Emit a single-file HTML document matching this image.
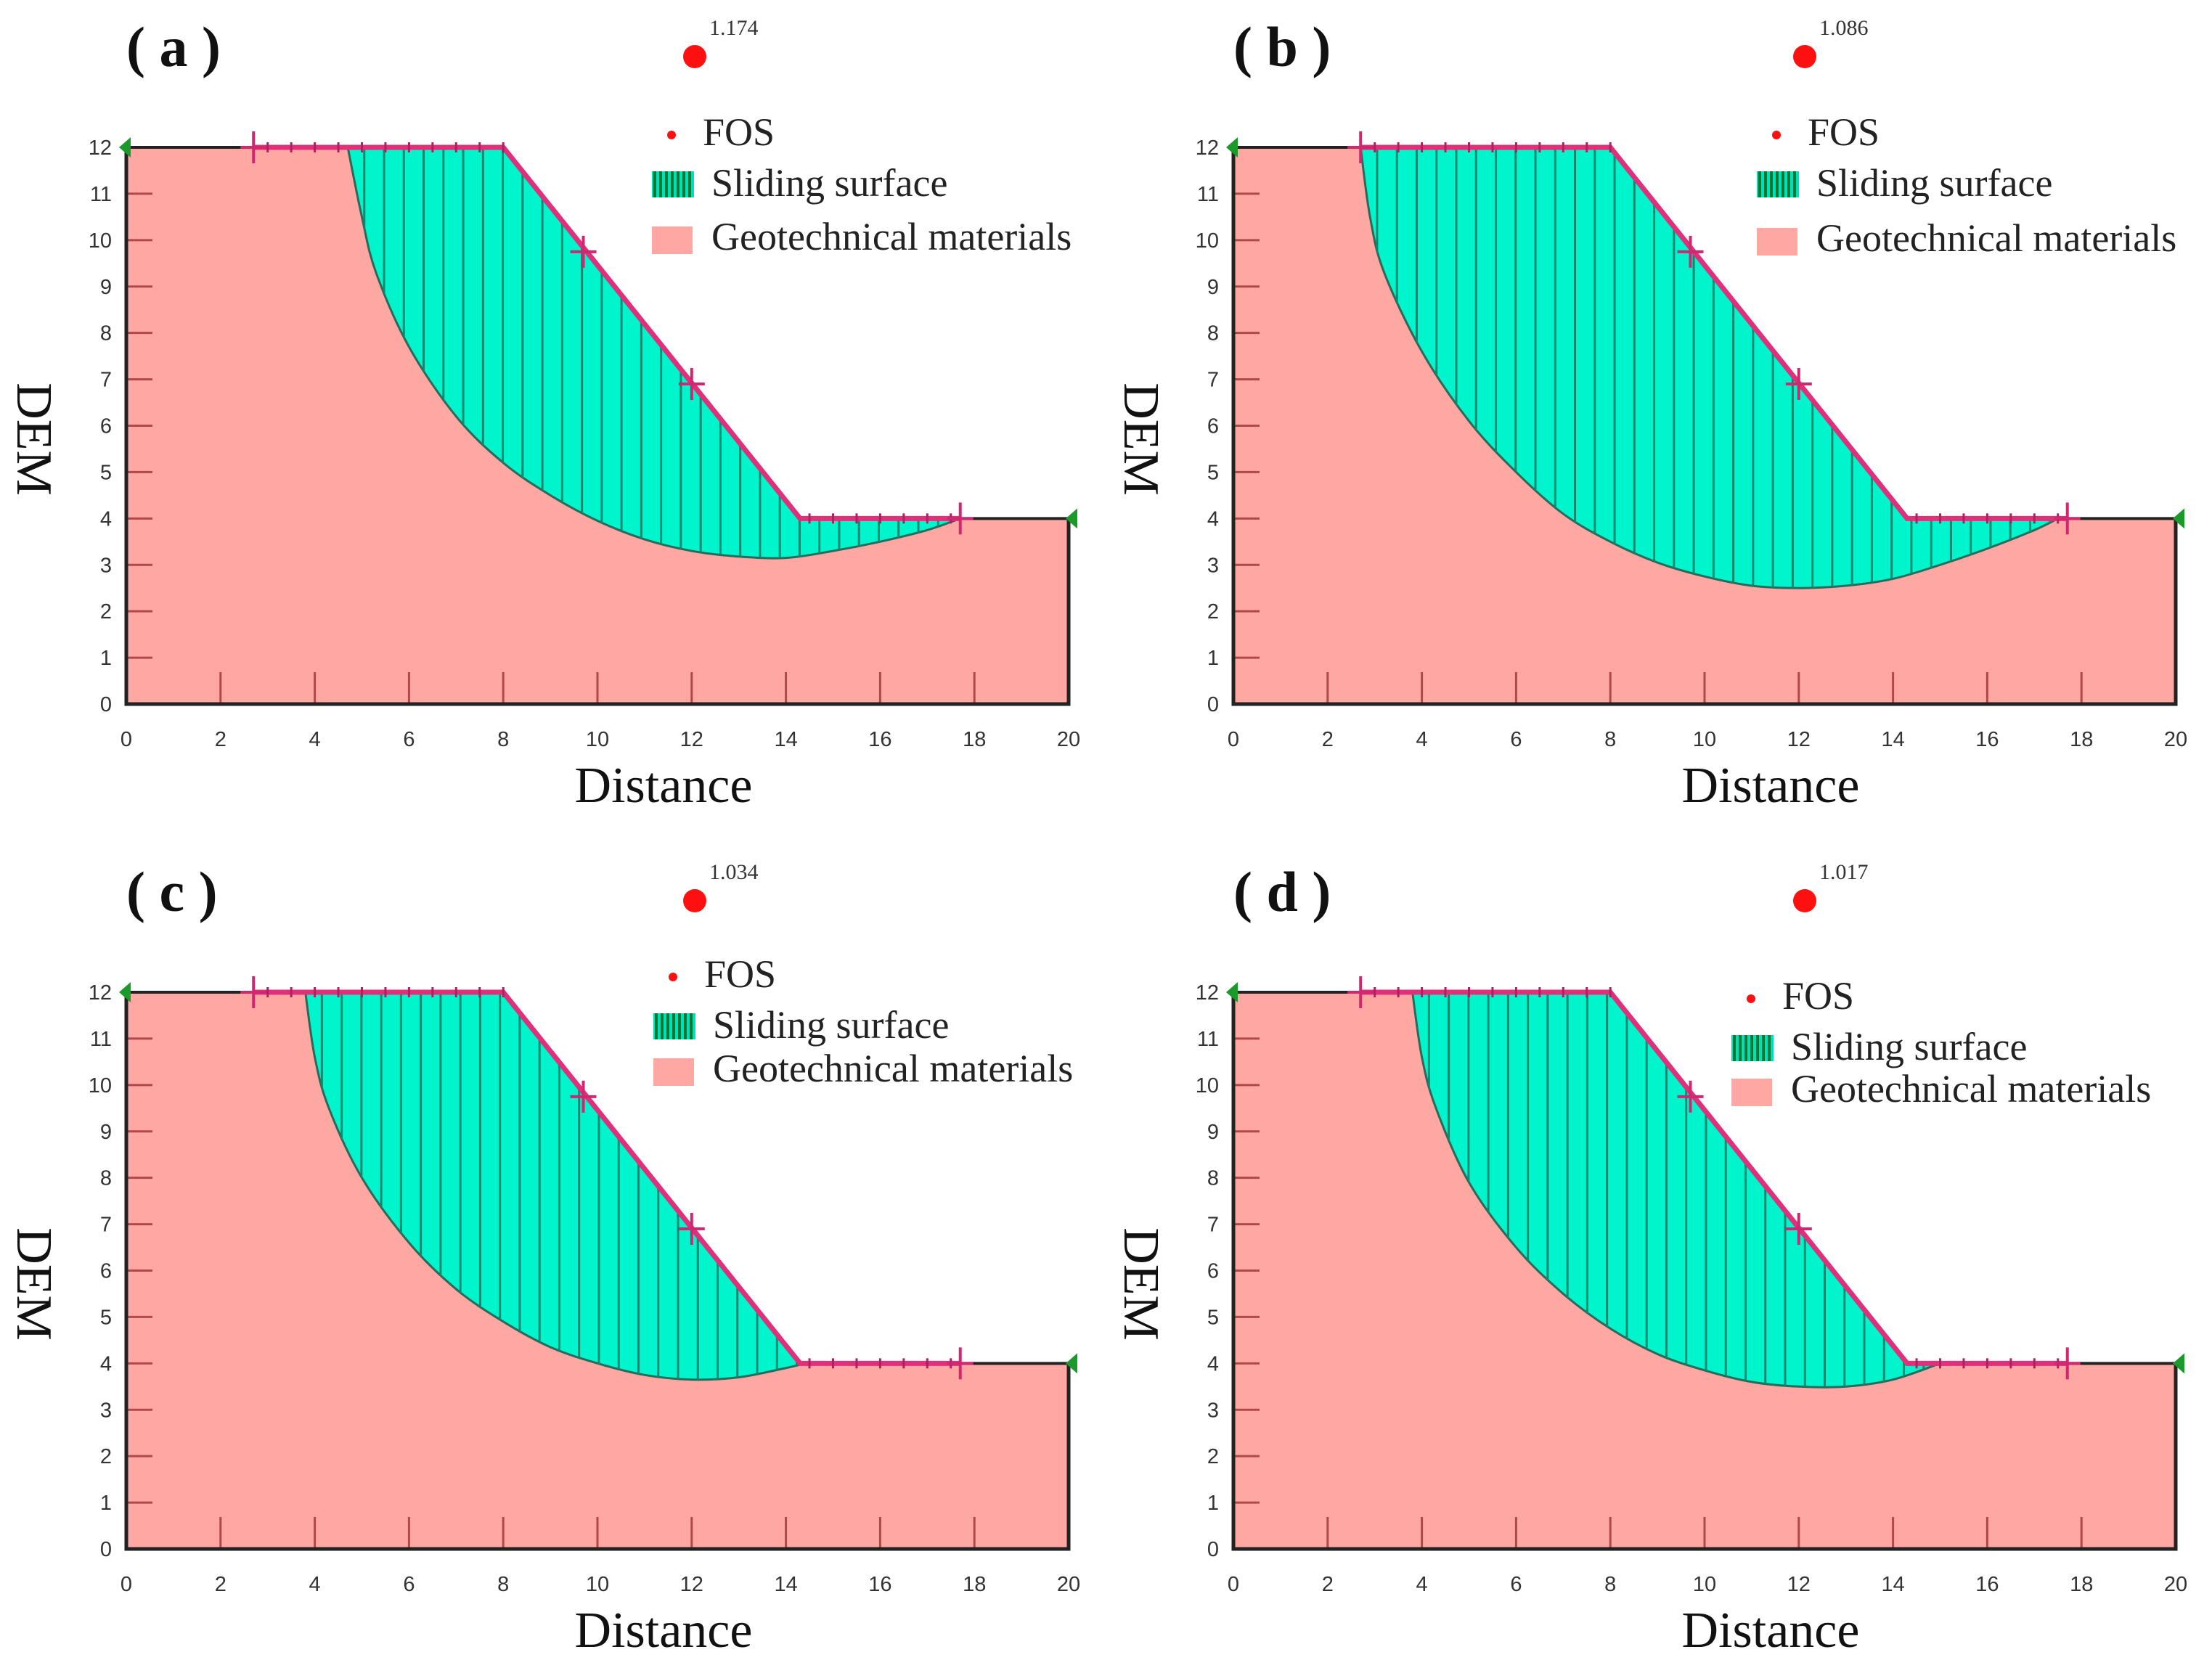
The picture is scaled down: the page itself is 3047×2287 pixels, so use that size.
<!DOCTYPE html>
<html><head><meta charset="utf-8"><style>
html,body{margin:0;padding:0;background:#fff}
svg{display:block}
text{font-family:"Liberation Serif",serif}
.tk{font-family:"Liberation Sans",sans-serif;font-size:29px;fill:#333}
</style></head><body>
<svg id="fig" width="3047" height="2287" viewBox="0 0 3047 2287" xmlns="http://www.w3.org/2000/svg">
<defs></defs>
</svg>
<script>
// Panel data
const panelLabels = ['a','b','c','d'];
const fosValues = ['1.174','1.086','1.034','1.017'];
const slipA = [[4.7,12],[5.0,10.5],[5.3,9.3],[6,7.7],[7,6.2],[8,5.2],[9,4.5],[10,3.95],[11,3.55],[12,3.3],[13,3.18],[14,3.15],[15,3.3],[16,3.5],[17,3.75],[17.7,4]];
const slipB = [[2.7,12],[2.9,10.5],[3.2,9.3],[4,7.6],[5,6.1],[6,5.0],[7,4.1],[8,3.5],[9,3.05],[10,2.75],[11,2.55],[12,2.5],[13,2.55],[14,2.7],[15,3.0],[16,3.35],[17,3.75],[17.5,4]];
const slipC = [[3.8,12],[4.0,10.6],[4.3,9.5],[5,8.0],[6,6.6],[7,5.6],[8,4.9],[9,4.35],[10,4.0],[11,3.75],[12,3.65],[13,3.7],[14,3.9],[14.4,4]];
const slipD = [[3.8,12],[4.0,10.6],[4.3,9.5],[5,7.9],[6,6.5],[7,5.5],[8,4.75],[9,4.2],[10,3.85],[11,3.6],[12,3.5],[13,3.5],[14,3.65],[15,4]];
const slips = [slipA, slipB, slipC, slipD];
const ground = [[0,12],[8,12],[14.3,4],[20,4]];
const xTicks = [0,2,4,6,8,10,12,14,16,18,20];
const yTicks = [0,1,2,3,4,5,6,7,8,9,10,11,12];
const crossPts = [[2.7,12],[9.7,9.75],[12,6.9],[17.7,4]];

const NS='http://www.w3.org/2000/svg';
const svg=document.getElementById('fig');
function mk(tag,attrs,parent){const e=document.createElementNS(NS,tag);for(const k in attrs)e.setAttribute(k,attrs[k]);(parent||svg).appendChild(e);return e;}
function gY(x){if(x<=8)return 12;if(x<=14.3)return 12-8*(x-8)/6.3;return 4;}
function smooth(pts){ // catmull-rom to bezier
  let d='M'+pts[0][0]+','+pts[0][1];
  for(let i=0;i<pts.length-1;i++){
    const p0=pts[Math.max(0,i-1)],p1=pts[i],p2=pts[i+1],p3=pts[Math.min(pts.length-1,i+2)];
    const c1=[p1[0]+(p2[0]-p0[0])/6,p1[1]+(p2[1]-p0[1])/6];
    const c2=[p2[0]-(p3[0]-p1[0])/6,p2[1]-(p3[1]-p1[1])/6];
    d+=' C'+c1[0]+','+c1[1]+' '+c2[0]+','+c2[1]+' '+p2[0]+','+p2[1];
  }
  return d;
}

const origins=[[174,203],[1699,203],[174,1367],[1699,1367]];
const legendPos=[[957,78,898,238,328],[2486,78,2420,238,330],[957,1241,900,1398,1474],[2486,1241,2385,1428,1502]];
const W=1298, H=767;

for(let p=0;p<4;p++){
  const [ox,oy]=origins[p];
  const X=v=>ox+v*W/20, Y=v=>oy+H-v*H/12;
  const g=mk('g',{});
  
  
  let d='M'+X(0)+','+Y(0);
  ground.forEach(q=>d+=' L'+X(q[0])+','+Y(q[1]));
  d+=' L'+X(20)+','+Y(0)+' Z';
  const gp=mk('path',{d:d,fill:'#ffa7a2',stroke:'none'},g);
  
  
  const s=slips[p];
  let sd=smooth(s.map(q=>[X(q[0]),Y(q[1])]));
  const x1=s[s.length-1][0], x0=s[0][0];
  const gx=[x1]; ground.forEach(q=>{if(q[0]<x1&&q[0]>x0)gx.push(q[0]);}); gx.push(x0);
  gx.sort((a,b)=>b-a).forEach(x=>sd+=' L'+X(x)+','+Y(gY(x)));
  sd+=' Z';
  const cp=mk('clipPath',{id:'clip'+p},svg.querySelector('defs'));
  mk('path',{d:sd},cp);
  const sp=mk('path',{d:sd,fill:'#00f5cc',stroke:'#2a6a5a','stroke-width':3},g);
  
  
  const hg=mk('g',{'clip-path':'url(#clip'+p+')'},g);
  for(let x=x0+0.35;x<x1;x+=0.42){mk('line',{x1:X(x),y1:Y(0),x2:X(x),y2:Y(12),stroke:'#0a8a70','stroke-width':3},hg);}
  xTicks.forEach(t=>{
    if(t>0&&t<20) mk('line',{x1:X(t),y1:Y(0),x2:X(t),y2:Y(0)-44,stroke:'#b04848','stroke-width':3},g);
    const tl=mk('text',{x:X(t),y:Y(0)+58,'text-anchor':'middle',class:'tk'},g);tl.textContent=t;
    
    
  });
  yTicks.forEach(t=>{
    if(t>0&&t<12) mk('line',{x1:X(0),y1:Y(t),x2:X(0)+36,y2:Y(t),stroke:'#b04848','stroke-width':3},g);
    const tl=mk('text',{x:X(0)-20,y:Y(t)+10,'text-anchor':'end',class:'tk'},g);tl.textContent=t;
    
    
  });
  mk('path',{d:'M'+X(0)+','+Y(12)+' L'+X(0)+','+Y(0)+' L'+X(20)+','+Y(0)+' L'+X(20)+','+Y(4),fill:'none',stroke:'#222','stroke-width':5},g);
  let gl='M'+X(0)+','+Y(12); ground.forEach(q=>gl+=' L'+X(q[0])+','+Y(q[1]));
  mk('path',{d:gl,fill:'none',stroke:'#222','stroke-width':4},g);
  let pl='M'+X(2.7)+','+Y(12)+' L'+X(8)+','+Y(12)+' L'+X(14.3)+','+Y(4)+' L'+X(17.7)+','+Y(4);
  const pk=mk('path',{d:pl,fill:'none',stroke:'#e0307a','stroke-width':7},g);
  
  
  for(let x=3;x<17.7;x+=0.5){if(x>8&&x<14.3)continue;mk('line',{x1:X(x),y1:Y(gY(x))-7,x2:X(x),y2:Y(gY(x))+7,stroke:'#b02060','stroke-width':3},g);}
  crossPts.forEach(c=>{
    mk('line',{x1:X(c[0]),y1:Y(c[1])-22,x2:X(c[0]),y2:Y(c[1])+22,stroke:'#d02870','stroke-width':4},g);
    mk('line',{x1:X(c[0])-18,y1:Y(c[1]),x2:X(c[0])+18,y2:Y(c[1]),stroke:'#d02870','stroke-width':4},g);
  });
  mk('path',{d:'M'+(X(0)+6)+','+(Y(12)-14)+' L'+(X(0)-10)+','+Y(12)+' L'+(X(0)+6)+','+(Y(12)+14)+'Z',fill:'#1a9a2a'},g);
  mk('path',{d:'M'+(X(20)-4)+','+Y(4)+' L'+(X(20)+12)+','+(Y(4)-14)+' L'+(X(20)+12)+','+(Y(4)+14)+'Z',fill:'#1a9a2a'},g);
  const pl2=mk('text',{x:ox,y:oy-112,'font-size':78,'font-weight':'bold',fill:'#111'},g);pl2.textContent='( '+panelLabels[p]+' )';
  
  
  const xl=mk('text',{x:X(0)+740,y:Y(0)+135,'font-size':70,'text-anchor':'middle',fill:'#111'},g);xl.textContent='Distance';
  
  
  const yl=mk('text',{x:0,y:0,'font-size':70,'text-anchor':'middle',fill:'#111',transform:'translate('+(ox-150)+','+(oy+402)+') rotate(90)'},g);yl.textContent='DEM';
  
  
  const L=legendPos[p];
  const fd=mk('circle',{cx:L[0],cy:L[1],r:16,fill:'#ff1010'},g);
  
  
  const fv=mk('text',{x:L[0]+20,y:L[1]-30,'font-size':30,fill:'#333','font-family':'Liberation Sans, sans-serif'},g);fv.textContent=fosValues[p];
  
  
  const lg=mk('g',{},g);
  
  
  const lx=L[2];
  mk('circle',{cx:lx+27,cy:L[3]-52,r:6,fill:'#ff1010'},lg);
  const t1=mk('text',{x:lx+70,y:L[3]-38,'font-size':54,fill:'#222'},lg);t1.textContent='FOS';
  
  
  mk('rect',{x:lx,y:L[3]-2,width:58,height:36,fill:'#00e0b8'},lg);
  for(let i=0;i<7;i++)mk('line',{x1:lx+4+i*8,y1:L[3]-2,x2:lx+4+i*8,y2:L[3]+34,stroke:'#073',"stroke-width":4},lg);
  const t2=mk('text',{x:lx+82,y:L[3]+32,'font-size':54,fill:'#222'},lg);t2.textContent='Sliding surface';
  
  
  mk('rect',{x:lx,y:L[4]-16,width:56,height:38,fill:'#ffa7a2'},lg);
  const t3=mk('text',{x:lx+82,y:L[4]+16,'font-size':54,fill:'#222'},lg);t3.textContent='Geotechnical materials';
  
  
}
</script>
</body></html>
